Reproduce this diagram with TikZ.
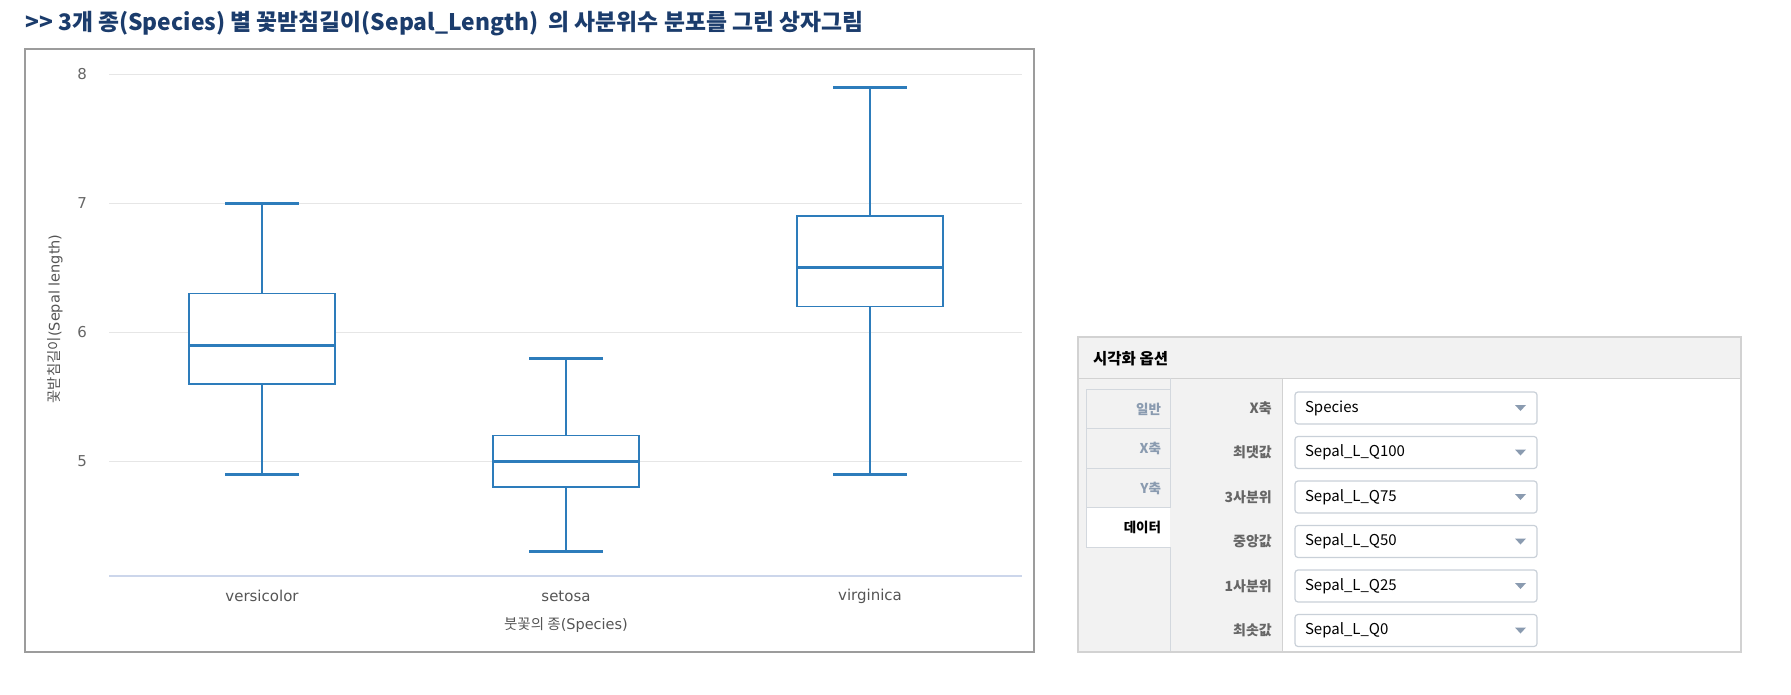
\documentclass[tikz,border=0pt]{standalone}
\usepackage{fontspec}
\setmainfont{DejaVu Sans}
\newfontfamily\krfont{Noto Sans CJK KR}
\usetikzlibrary{positioning, backgrounds}

\definecolor{titleblue}{HTML}{1B3C6C}
\definecolor{boxblue}{HTML}{2D7CBB}
\definecolor{gridgray}{HTML}{E6E6E6}
\definecolor{axisline}{HTML}{CCD6EB}
\definecolor{framegray}{HTML}{9C9C9C}
\definecolor{tickgray}{HTML}{666666}
\definecolor{labelgray}{HTML}{555555}
\definecolor{panelgray}{HTML}{F2F2F2}
\definecolor{panelline}{HTML}{D2D2D2}
\definecolor{tabline}{HTML}{D3D8DE}
\definecolor{tabtext}{HTML}{8A9BB0}
\definecolor{fieldline}{HTML}{C9D0D8}

\begin{document}
\begin{tikzpicture} [
    x=1pt, y=-1pt,
    node distance=12.5pt,
    ticklabel/.style={anchor=east, inner sep=0pt, font=\fontsize{15}{18}\selectfont, text=tickgray},
    catlabel/.style={inner sep=0pt, font=\fontsize{15}{18}\selectfont, text=labelgray},
    axistitle/.style={inner sep=0pt, font=\fontsize{14.5}{17}\selectfont, text=labelgray},
    gridline/.style={draw=gridgray, line width=1pt},
    whisker/.style={draw=boxblue, line width=1.5pt},
    whiskercap/.style={draw=boxblue, line width=3pt},
    boxline/.style={draw=boxblue, line width=1.5pt, fill=white},
    medianline/.style={draw=boxblue, line width=3pt},
    field/.style={rectangle, rounded corners=3pt, draw=fieldline, line width=1.2pt, fill=white, outer sep=0pt, minimum width=242pt, minimum height=32pt, text width=222pt, inner xsep=10pt, align=left, font=\krfont\fontsize{15}{18}\selectfont},
    fieldlabel/.style={inner sep=0pt, font=\krfont\bfseries\fontsize{14}{17}\selectfont, text=tickgray},
    tabbox/.style={rectangle, draw=tabline, fill=panelgray, line width=1pt, outer sep=0pt, minimum width=84pt, minimum height=39.5pt, text width=66pt, inner xsep=9pt, align=right, font=\krfont\bfseries\fontsize{13.5}{16}\selectfont, text=tabtext},
    droparrow/.style={fill=tabtext}
]
\useasboundingbox (0,0) rectangle (1791,695);

% Title
\node[anchor=west, inner sep=0pt, font=\krfont\bfseries\fontsize{22.8}{27}\selectfont, text=titleblue] (title) at (25,24) {>> 3개 종(Species) 별 꽃받침길이(Sepal\_Length)\ \ 의 사분위수 분포를 그린 상자그림};

% Chart frame
\draw[framegray, line width=2pt] (25,49) rectangle (1034,652);

% Value axis: y runs in sepal length units
\begin{scope}[y=129pt, yshift=-1106.3pt]
    \draw[gridline] (109,8) -- (1022,8);
    \draw[gridline] (109,7) -- (1022,7);
    \draw[gridline] (109,6) -- (1022,6);
    \draw[gridline] (109,5) -- (1022,5);
    \draw[draw=axisline, line width=1.5pt] (109,4.11) -- (1022,4.11);

    \node[ticklabel] (t8) at (87,8) {8};
    \node[ticklabel] (t7) at (87,7) {7};
    \node[ticklabel] (t6) at (87,6) {6};
    \node[ticklabel] (t5) at (87,5) {5};

    % versicolor
    \draw[whisker] (262,7.0) -- (262,6.3);
    \draw[whisker] (262,5.6) -- (262,4.9);
    \draw[whiskercap] (225,7.0) -- (299,7.0);
    \draw[whiskercap] (225,4.9) -- (299,4.9);
    \draw[boxline] (189,5.6) rectangle (335,6.3);
    \draw[medianline] (189,5.9) -- (335,5.9);

    % setosa
    \draw[whisker] (566,5.8) -- (566,5.2);
    \draw[whisker] (566,4.8) -- (566,4.3);
    \draw[whiskercap] (529,5.8) -- (603,5.8);
    \draw[whiskercap] (529,4.3) -- (603,4.3);
    \draw[boxline] (493,4.8) rectangle (639,5.2);
    \draw[medianline] (493,5.0) -- (639,5.0);

    % virginica
    \draw[whisker] (870,7.9) -- (870,6.9);
    \draw[whisker] (870,6.2) -- (870,4.9);
    \draw[whiskercap] (833,7.9) -- (907,7.9);
    \draw[whiskercap] (833,4.9) -- (907,4.9);
    \draw[boxline] (797,6.2) rectangle (943,6.9);
    \draw[medianline] (797,6.5) -- (943,6.5);
\end{scope}

\node[catlabel] (versicolor) at (262,596) {versicolor};
\node[catlabel] (setosa) at (566,596) {setosa};
\node[catlabel] (virginica) at (870,596) {virginica};
\node[axistitle] (xtitle) at (566,625) {{\krfont 붓꽃의 종}(Species)};
\node[axistitle, rotate=90] (ytitle) at (55,319) {{\krfont 꽃받침길이}(Sepal length)};

% Option panel
\fill[panelgray] (1078,337) rectangle (1741,378);
\fill[panelgray] (1078,378) rectangle (1282,652);
\node[anchor=west, inner sep=0pt, font=\krfont\bfseries\fontsize{15.5}{18}\selectfont] (paneltitle) at (1093,359) {시각화 옵션};
\draw[panelline, line width=1pt] (1078,378) -- (1741,378);
\draw[panelline, line width=1pt] (1282,378) -- (1282,652);
\draw[tabline, line width=1pt] (1170,378) -- (1170,389);
\draw[tabline, line width=1pt] (1170,547) -- (1170,652);

\node[tabbox] (general) at (1128,409) {일반};
\node[tabbox, below=0pt of general] (xtab) {X축};
\node[tabbox, below=0pt of xtab] (ytab) {Y축};
\node[tabbox, fill=white, draw=none, text=black, below=0pt of ytab] (datatab) {데이터};
\draw[tabline, line width=1pt] (datatab.north east) -- (datatab.north west) -- (datatab.south west) -- (datatab.south east);

\node[field] (xaxis) at (1416,408) {Species};
\node[field, below=of xaxis] (qmax) {Sepal\_L\_Q100};
\node[field, below=of qmax] (qthree) {Sepal\_L\_Q75};
\node[field, below=of qthree] (qmed) {Sepal\_L\_Q50};
\node[field, below=of qmed] (qone) {Sepal\_L\_Q25};
\node[field, below=of qone] (qmin) {Sepal\_L\_Q0};

\node[fieldlabel, left=23pt of xaxis] (xaxislabel) {X축};
\node[fieldlabel, left=23pt of qmax] (qmaxlabel) {최댓값};
\node[fieldlabel, left=23pt of qthree] (qthreelabel) {3사분위};
\node[fieldlabel, left=23pt of qmed] (qmedlabel) {중앙값};
\node[fieldlabel, left=23pt of qone] (qonelabel) {1사분위};
\node[fieldlabel, left=23pt of qmin] (qminlabel) {최솟값};

\fill[droparrow] ([xshift=-22pt, yshift=3pt]xaxis.east) -- ++(11,0) -- ++(-5.5,6) -- cycle;
\fill[droparrow] ([xshift=-22pt, yshift=3pt]qmax.east) -- ++(11,0) -- ++(-5.5,6) -- cycle;
\fill[droparrow] ([xshift=-22pt, yshift=3pt]qthree.east) -- ++(11,0) -- ++(-5.5,6) -- cycle;
\fill[droparrow] ([xshift=-22pt, yshift=3pt]qmed.east) -- ++(11,0) -- ++(-5.5,6) -- cycle;
\fill[droparrow] ([xshift=-22pt, yshift=3pt]qone.east) -- ++(11,0) -- ++(-5.5,6) -- cycle;
\fill[droparrow] ([xshift=-22pt, yshift=3pt]qmin.east) -- ++(11,0) -- ++(-5.5,6) -- cycle;

\draw[draw=panelline, line width=2pt] (1078,337) rectangle (1741,652);

\end{tikzpicture}
\end{document}
